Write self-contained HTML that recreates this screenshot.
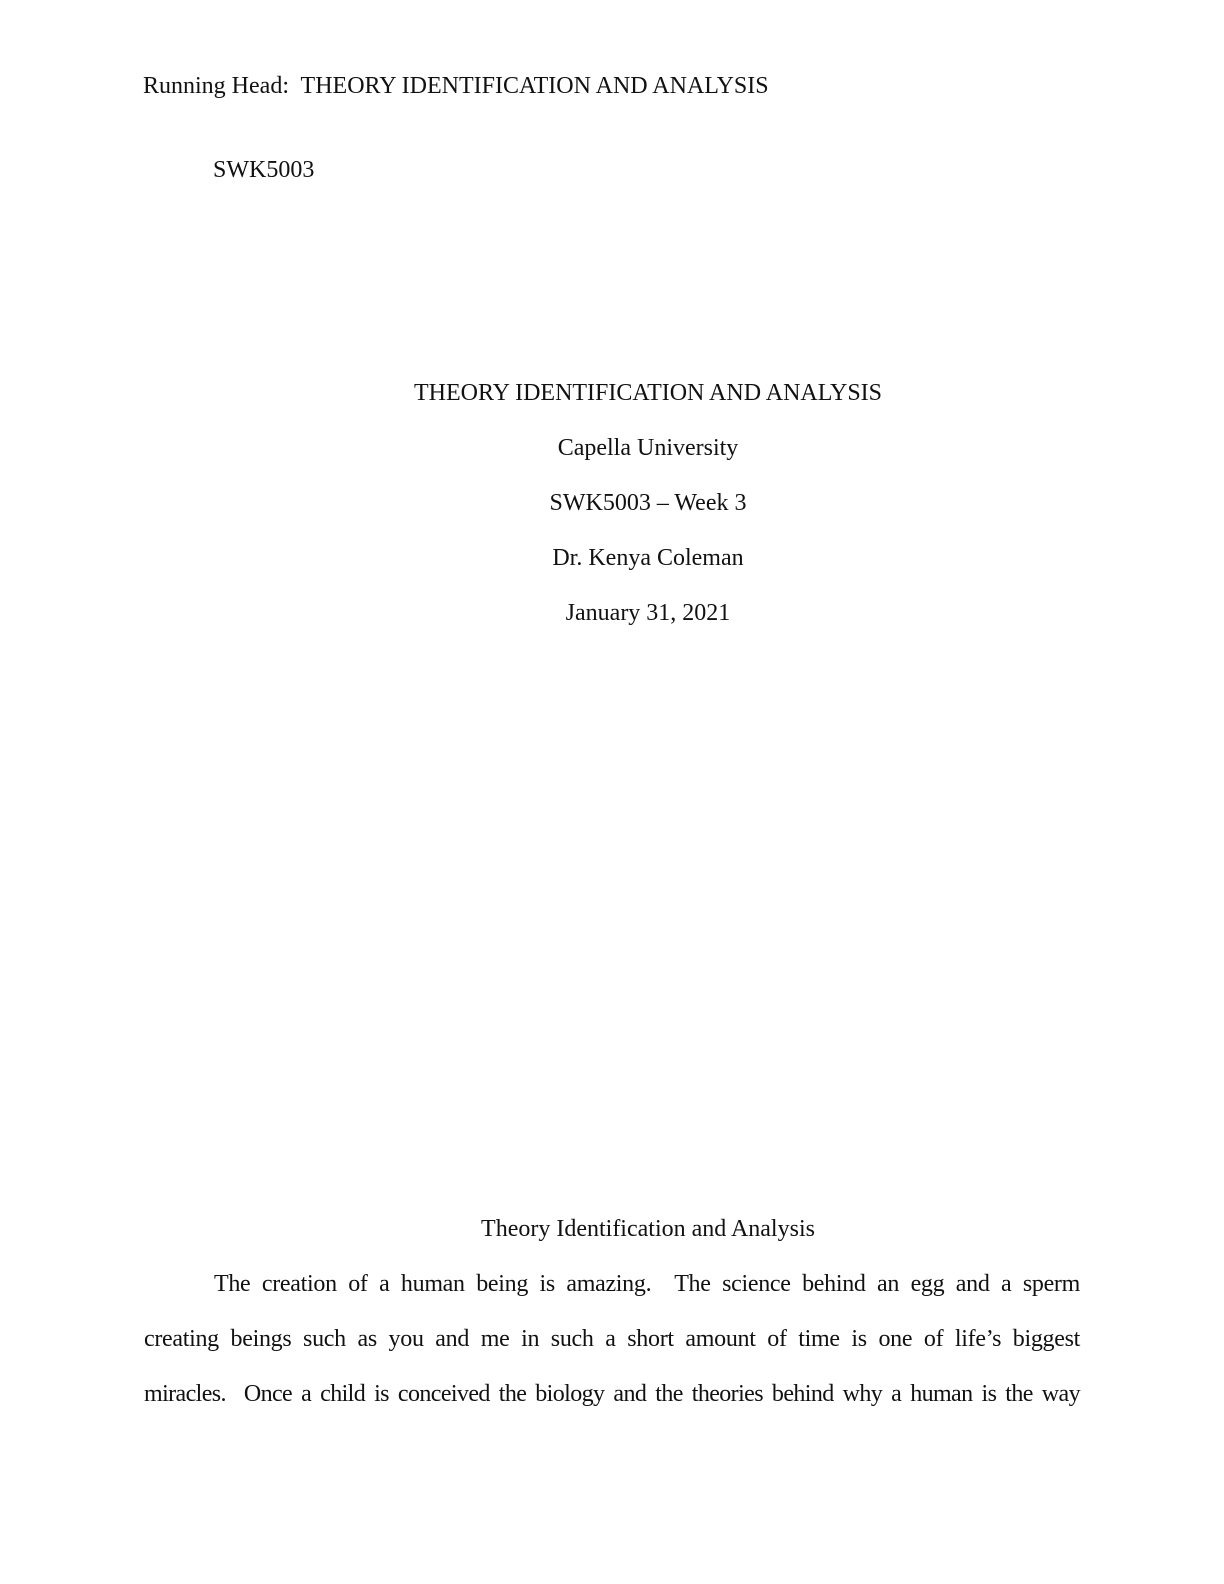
<!DOCTYPE html>
<html><head><meta charset="utf-8"><style>
html,body{margin:0;padding:0;background:#fff;}
body{width:1224px;height:1584px;position:relative;overflow:hidden;font-family:"Liberation Serif","Times New Roman",serif;font-size:24px;color:#111;}
.l{position:absolute;line-height:24px;white-space:nowrap;}
.c{left:0;width:1296px;text-align:center;}
.j{left:144px;width:936px;text-align:justify;text-align-last:justify;white-space:normal;letter-spacing:-0.3px;}
</style></head><body>
<div class="l" style="left:143px;top:74px;">Running Head:&nbsp; THEORY IDENTIFICATION AND ANALYSIS</div>
<div class="l" style="left:213px;top:158px;">SWK5003</div>
<div class="l c" style="top:381px;">THEORY IDENTIFICATION AND ANALYSIS</div>
<div class="l c" style="top:436px;">Capella University</div>
<div class="l c" style="top:491px;">SWK5003 – Week 3</div>
<div class="l c" style="top:546px;">Dr. Kenya Coleman</div>
<div class="l c" style="top:601px;">January 31, 2021</div>
<div class="l c" style="top:1217px;">Theory Identification and Analysis</div>
<div class="l j" style="top:1272px;left:214px;width:866px;">The creation of a human being is amazing. &nbsp;The science behind an egg and a sperm</div>
<div class="l j" style="top:1327px;">creating beings such as you and me in such a short amount of time is one of life’s biggest</div>
<div class="l j" style="top:1382px;letter-spacing:-0.6px;">miracles. &nbsp;Once a child is conceived the biology and the theories behind why a human is the way</div>
</body></html>
